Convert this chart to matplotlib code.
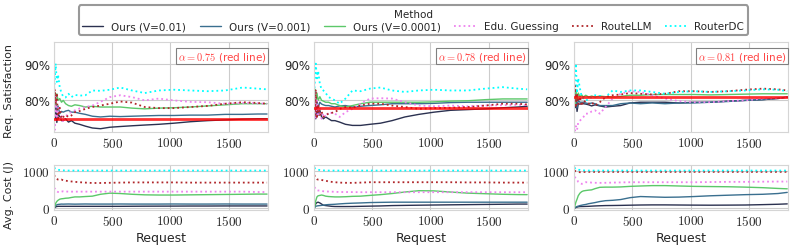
import matplotlib
matplotlib.use('Agg')
import matplotlib.pyplot as plt
import seaborn as sns

sns.set_style('whitegrid')
plt.rcParams['font.family'] = ['DejaVu Sans']
plt.rcParams['mathtext.fontset'] = 'cm'

# sample positions (request index)
req = [2, 8, 15, 25, 35, 50, 65, 80, 100, 125, 150, 180, 220, 270, 330, 400, 480,
       570, 670, 780, 900, 1030, 1170, 1320, 1470, 1620, 1750, 1830]

alphas = [0.75, 0.78, 0.81]
methods = ['Ours (V=0.01)', 'Ours (V=0.001)', 'Ours (V=0.0001)', 'Edu. Guessing', 'RouteLLM', 'RouterDC']

# request satisfaction (%) -- alpha = 0.75
sat75_v01 = [78, 75, 80, 74, 76.5, 75.5, 74.5, 74.5, 75, 74.1, 74.5, 73.8, 73.5, 73.0, 72.5, 72.3, 72.7,
             72.9, 73.1, 73.3, 73.5, 73.8, 74.2, 74.5, 74.7, 74.9, 75.0, 75.0]
sat75_v001 = [80, 78, 79.5, 77, 78.5, 76.4, 77, 76.8, 77.1, 77.3, 76.8, 76.8, 76.5, 76.2, 75.7, 75.5, 75.7,
              75.6, 75.7, 75.8, 75.9, 75.9, 76.0, 76.0, 76.2, 76.2, 76.3, 76.3]
sat75_v0001 = [80, 82, 78.5, 81.8, 80, 80.5, 79.5, 80, 79.1, 78.6, 78.4, 78.8, 78.6, 78.2, 78.4, 78.2, 78.2,
               78.2, 77.9, 77.7, 77.9, 78.0, 78.2, 78.5, 78.8, 79.1, 79.1, 79.1]
sat75_edu = [80, 72, 81, 75, 78, 74.5, 76, 74, 75.5, 76.5, 76.8, 77.3, 77.8, 78.2, 78.6, 79.6, 80.9,
             81.4, 80.9, 80.0, 80.5, 80.0, 79.6, 79.5, 79.1, 79.3, 79.2, 79.1]
sat75_llm = [76, 83, 79, 82, 74.5, 78, 75, 75.5, 76, 75.5, 75.9, 76.8, 77.1, 77.7, 78.2, 78.6, 79.1,
             79.7, 79.4, 78.2, 77.9, 77.9, 78.2, 78.5, 79.1, 79.5, 79.3, 79.1]
sat75_dc = [83, 86, 90, 85, 87, 83.6, 82, 81, 80.8, 81.8, 80.9, 81.5, 81.3, 81.4, 82.7, 82.6, 82.9,
            83.5, 82.7, 82, 82.7, 82.9, 82.7, 82.5, 82.7, 83.5, 83.2, 83.0]

# alpha = 0.78
sat78_v01 = [77, 80, 75, 78, 76, 77.3, 75.5, 75, 75.5, 75, 74.5, 74.5, 74.1, 73.5, 73.2, 73.2, 73.5,
             73.8, 74.5, 75.5, 76.2, 76.8, 77.3, 77.5, 77.7, 78.0, 78.2, 78.4]
sat78_v001 = [79, 81, 77, 80, 78, 79.5, 79, 78.8, 78.6, 78.6, 78.4, 78.2, 78.5, 78.6, 78.2, 78.4, 78.6,
              78.8, 79.1, 79.1, 79.1, 79.2, 79.4, 79.5, 79.5, 79.5, 79.5, 79.5]
sat78_v0001 = [80, 83, 79, 82, 80, 81, 80, 79.8, 79.5, 79.5, 79.1, 79.1, 78.6, 78.2, 78.6, 79.1, 79.5,
               79.5, 79.5, 79.5, 79.5, 79.6, 79.8, 79.9, 80.2, 80.4, 80.4, 80.4]
sat78_edu = [78, 82, 75, 80, 76, 78, 75, 76.5, 75.5, 76.8, 76.6, 76.4, 75.5, 76.8, 77.7, 79.1, 80.5,
             80.6, 80.5, 79.5, 78.6, 78.4, 78.6, 78.4, 78.6, 78.7, 78.8, 78.7]
sat78_llm = [80, 76, 83, 75, 79, 76, 77, 75.5, 76, 76.4, 76.6, 76.8, 77.7, 78.2, 78, 78.6, 79.1,
             79.1, 78.6, 78.2, 77.7, 77.9, 78.0, 78.2, 78.6, 79.1, 79.1, 78.9]
sat78_dc = [82, 86, 90, 86, 88, 84.5, 83, 82.7, 82, 80.9, 80.5, 80, 79.1, 80.5, 82.7, 82.5, 83.2,
            83.5, 82.7, 82.3, 82.7, 82.9, 82.7, 82.7, 83.2, 83.6, 83.2, 83.0]

# alpha = 0.81
sat81_v01 = [80, 78, 81, 77, 79, 79, 79.1, 79.1, 79.0, 78.8, 78.5, 78.8, 78.5, 78.2, 78.4, 78.6, 79.3,
             79.5, 79.5, 79.5, 79.3, 79.5, 79.5, 79.8, 80.0, 80.2, 80.5, 80.9]
sat81_v001 = [82, 79, 81, 78, 80, 79.5, 79.5, 79.5, 79.3, 79.1, 79.3, 79.1, 78.6, 78.6, 78.6, 79.1, 79.3,
              79.1, 79.3, 79.1, 79.3, 79.3, 79.5, 79.7, 80.0, 80.2, 80.6, 80.9]
sat81_v0001 = [81, 79, 83, 80, 82, 81, 81.5, 80.9, 81.4, 80.9, 81.2, 80.9, 81.2, 81.0, 80.9, 81.1, 81.4,
               81.4, 81.6, 81.6, 81.6, 81.6, 81.5, 81.6, 81.7, 81.8, 81.8, 81.8]
sat81_edu = [72, 71.8, 73, 72, 74, 74.5, 75, 75.5, 76.4, 76.4, 77, 77.3, 76.4, 78.2, 80.5, 81.8, 82.5,
             82.3, 81.4, 80.5, 79.8, 79.5, 79.5, 79.8, 80, 80.5, 80.6, 80.9]
sat81_llm = [80, 84, 78, 82, 79, 81, 78.5, 80, 79.5, 79.1, 79.5, 78.6, 79.5, 80.9, 81.4, 81.6, 82.0,
             81.8, 81.6, 81.8, 82.5, 82.5, 82.3, 82.5, 82.9, 83.2, 83.0, 82.7]
sat81_dc = [84, 87, 90, 82, 86, 83.2, 81, 80.5, 80, 80.3, 80.9, 81.4, 81.2, 80.9, 82.7, 82.3, 82.7,
            82.7, 82.3, 81.8, 82.3, 82.5, 82.3, 82.5, 82.7, 83.0, 82.9, 82.5]

# average cost (J) -- alpha = 0.75
cost75_v01 = [0, 20, 35, 45, 50, 50, 50, 50, 50, 50, 50, 50, 50, 50, 50, 50, 50,
              50, 52, 54, 55, 56, 58, 58, 60, 60, 60, 60]
cost75_v001 = [0, 40, 70, 90, 100, 105, 110, 108, 110, 112, 110, 108, 110, 112, 110, 110, 110,
               112, 110, 110, 110, 112, 110, 110, 112, 110, 110, 110]
cost75_v0001 = [0, 60, 130, 180, 210, 240, 250, 255, 265, 270, 285, 300, 300, 310, 320, 370, 400,
                390, 370, 355, 350, 350, 355, 360, 365, 370, 375, 375]
cost75_edu = [540, 520, 480, 450, 430, 420, 440, 450, 445, 440, 440, 440, 440, 440, 440, 440, 440,
              440, 440, 440, 440, 440, 440, 440, 440, 440, 430, 430]
cost75_llm = [880, 840, 800, 780, 760, 750, 760, 740, 730, 720, 710, 700, 690, 680, 670, 670, 675,
              680, 685, 685, 685, 685, 680, 680, 680, 680, 680, 680]
cost75_dc = [1080, 1060, 1040, 1030, 1020, 1015, 1010, 1005, 1000, 1000, 1000, 1000, 1000, 1000, 1000, 1000, 1000,
             1000, 1000, 1000, 1000, 1000, 1000, 1000, 1000, 1000, 1000, 1000]

# alpha = 0.78
cost78_v01 = [0, 60, 120, 150, 160, 140, 110, 80, 70, 60, 50, 45, 44, 44, 45, 50, 55,
              60, 70, 75, 80, 85, 90, 95, 100, 105, 110, 110]
cost78_v001 = [0, 30, 50, 60, 65, 70, 75, 80, 90, 97, 100, 105, 115, 125, 133, 140, 150,
               155, 160, 160, 160, 160, 160, 160, 160, 160, 160, 160]
cost78_v0001 = [0, 80, 200, 300, 330, 340, 350, 340, 320, 310, 305, 300, 300, 305, 315, 320, 340,
                360, 390, 430, 465, 460, 430, 400, 385, 370, 362, 360]
cost78_edu = [560, 540, 500, 480, 470, 470, 460, 450, 445, 442, 440, 435, 430, 430, 428, 425, 425,
              425, 425, 425, 425, 425, 425, 425, 425, 425, 425, 425]
cost78_llm = [880, 840, 800, 770, 760, 760, 750, 740, 730, 710, 700, 690, 680, 675, 673, 680, 690,
              690, 690, 690, 690, 690, 690, 685, 685, 680, 680, 680]
cost78_dc = [1080, 1060, 1040, 1030, 1020, 1015, 1010, 1005, 1000, 1000, 1000, 1000, 1000, 1000, 1000, 1000, 1000,
             1000, 1000, 1000, 1000, 1000, 1000, 1000, 1000, 1000, 1000, 1000]

# alpha = 0.81
cost81_v01 = [0, 10, 20, 30, 38, 44, 45, 46, 48, 50, 55, 60, 65, 70, 72, 75, 80,
              85, 88, 88, 85, 82, 80, 82, 85, 95, 105, 115]
cost81_v001 = [0, 15, 30, 45, 55, 70, 80, 90, 100, 120, 133, 150, 177, 200, 210, 230, 280,
               310, 300, 290, 295, 310, 330, 345, 360, 370, 390, 420]
cost81_v0001 = [0, 80, 160, 240, 330, 400, 440, 460, 470, 480, 487, 520, 555, 560, 560, 565, 580,
                590, 600, 600, 590, 580, 575, 570, 560, 545, 525, 515]
cost81_edu = [830, 820, 800, 760, 700, 670, 646, 660, 690, 690, 680, 675, 673, 675, 680, 685, 690,
              690, 690, 690, 690, 690, 695, 700, 700, 705, 708, 708]
cost81_llm = [1000, 990, 980, 970, 960, 956, 956, 960, 965, 965, 965, 965, 965, 965, 965, 965, 965,
              965, 965, 965, 965, 965, 965, 965, 965, 965, 965, 965]
cost81_dc = [1080, 1060, 1040, 1030, 1020, 1018, 1010, 1005, 1000, 1000, 1000, 1000, 1000, 1000, 1000, 1000, 1000,
             1000, 1000, 1000, 1000, 1000, 1000, 1000, 1000, 1000, 1000, 1000]

sat = [[sat75_v01, sat75_v001, sat75_v0001, sat75_edu, sat75_llm, sat75_dc],
       [sat78_v01, sat78_v001, sat78_v0001, sat78_edu, sat78_llm, sat78_dc],
       [sat81_v01, sat81_v001, sat81_v0001, sat81_edu, sat81_llm, sat81_dc]]
cost = [[cost75_v01, cost75_v001, cost75_v0001, cost75_edu, cost75_llm, cost75_dc],
        [cost78_v01, cost78_v001, cost78_v0001, cost78_edu, cost78_llm, cost78_dc],
        [cost81_v01, cost81_v001, cost81_v0001, cost81_edu, cost81_llm, cost81_dc]]

colors = ['#2b3150', '#3a6f8f', '#5cc86a', 'violet', '#b0262a', 'cyan']
styles = ['-', '-', '-', ':', ':', ':']
widths = [1.0, 1.0, 1.0, 1.3, 1.3, 1.3]

fig = plt.figure(figsize=(7.93, 2.51), dpi=100)
lefts = [0.068, 0.396, 0.724]
w = 0.2695
fs = 8.5

handles = []
for i in range(3):
    ax1 = fig.add_axes([lefts[i], 0.470, w, 0.359])
    ax2 = fig.add_axes([lefts[i], 0.159, w, 0.180])
    for k in range(6):
        l, = ax1.plot(req, sat[i][k], color=colors[k], ls=styles[k], lw=widths[k])
        ax2.plot(req, cost[i][k], color=colors[k], ls=styles[k], lw=widths[k])
        if i == 0:
            handles.append(l)
    ax1.axhline(alphas[i] * 100, color='red', lw=2, alpha=0.8, zorder=3)
    ax1.text(0.993, 0.915, r'$\alpha = %.2f$ (red line)' % alphas[i], transform=ax1.transAxes,
             ha='right', va='top', color='#ff4444', fontsize=7.5,
             bbox=dict(boxstyle='square,pad=0.15', fc='white', ec='gray', lw=0.8))

    ax1.set_xlim(0, 1835)
    ax1.set_ylim(71.4, 95.9)
    ax1.set_yticks([80, 90])
    ax1.set_yticklabels(['80%', '90%'], fontsize=fs)
    ax2.set_xlim(0, 1835)
    ax2.set_ylim(-50, 1150)
    ax2.set_yticks([0, 1000])
    ax2.set_yticklabels(['$0$', '$1000$'], fontsize=fs + 1)
    for ax in (ax1, ax2):
        ax.set_xticks([0, 500, 1000, 1500])
        ax.set_xticklabels(['$0$', '$500$', '$1000$', '$1500$'], fontsize=fs + 1)
        ax.tick_params(length=0, pad=3)
        for s in ax.spines.values():
            s.set_color('#d5d5d5')
    ax2.set_xlabel('Request', fontsize=fs + 0.5, labelpad=2)
    if i == 0:
        ax1.set_ylabel('Req. Satisfaction', fontsize=8)
        ax1.yaxis.set_label_coords(-0.185, 0.47)
        ax2.set_ylabel('Avg. Cost (J)', fontsize=8)
        ax2.yaxis.set_label_coords(-0.185, 0.35)

leg = fig.legend(handles, methods, loc='upper center', bbox_to_anchor=(0.521, 0.995), ncol=6,
                 title='Method', fontsize=7.5, title_fontsize=7.5, frameon=True, fancybox=True,
                 handlelength=2.0, columnspacing=1.3, borderpad=0.35, labelspacing=0.2)
leg.get_frame().set_edgecolor('gray')
leg.get_frame().set_linewidth(1.5)

fig.savefig('out.png', dpi=100)
